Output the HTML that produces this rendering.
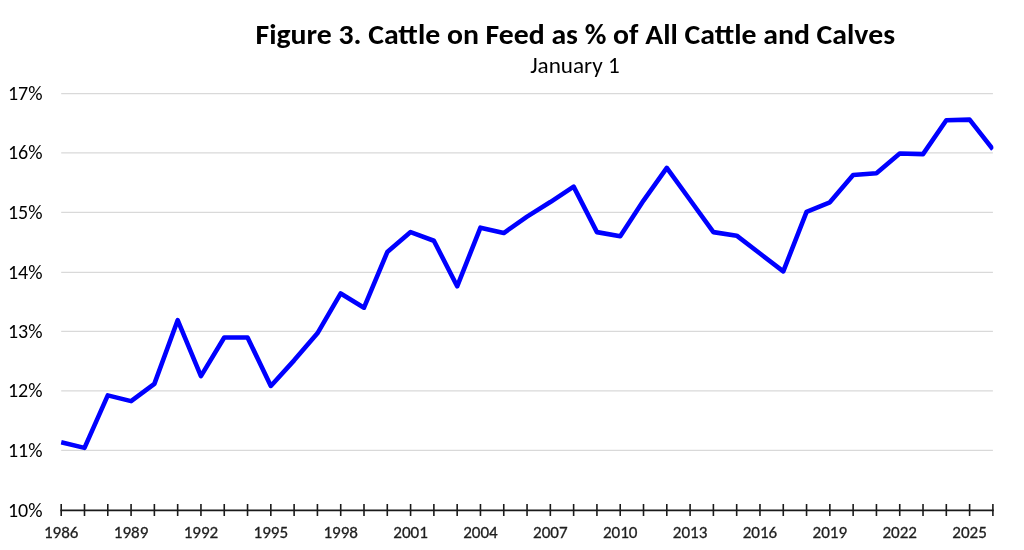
<!DOCTYPE html>
<html><head><meta charset="utf-8"><title>Figure 3. Cattle on Feed as % of All Cattle and Calves</title>
<style>
html,body{margin:0;padding:0;background:#fff;width:1024px;height:550px;overflow:hidden}
svg{display:block;will-change:transform}
text{font-family:"Carlito","Liberation Sans",sans-serif;fill:#000}
.title{font-size:28px;font-weight:bold}
.sub{font-size:22.3px}
.yl{font-size:20px;text-anchor:end}
.xl{font-size:17.2px;fill:#1f1f1f;stroke:#1f1f1f;stroke-width:0.3px}
.g{stroke:#d9d9d9;stroke-width:1.3}
.t{stroke:#1a1a1a;stroke-width:1.6}
.ax{stroke:#1a1a1a;stroke-width:1.75}
.ln{fill:none;stroke:#0000ff;stroke-width:4.6;stroke-linejoin:round;stroke-linecap:butt}
</style></head><body>
<svg width="1024" height="550" viewBox="0 0 1024 550">
<rect width="1024" height="550" fill="#fff"/>
<text x="255.5" y="43.8" class="title" textLength="639.5" lengthAdjust="spacingAndGlyphs">Figure 3. Cattle on Feed as % of All Cattle and Calves</text>
<text x="530.2" y="73.2" class="sub" textLength="89.5" lengthAdjust="spacingAndGlyphs">January 1</text>
<line x1="61.20" y1="450.36" x2="992.90" y2="450.36" class="g"/>
<line x1="61.20" y1="390.85" x2="992.90" y2="390.85" class="g"/>
<line x1="61.20" y1="331.45" x2="992.90" y2="331.45" class="g"/>
<line x1="61.20" y1="272.36" x2="992.90" y2="272.36" class="g"/>
<line x1="61.20" y1="212.36" x2="992.90" y2="212.36" class="g"/>
<line x1="61.20" y1="152.80" x2="992.90" y2="152.80" class="g"/>
<line x1="61.20" y1="93.56" x2="992.90" y2="93.56" class="g"/>
<text x="42.5" y="516.55" class="yl" textLength="34.58" lengthAdjust="spacingAndGlyphs">10%</text>
<text x="42.5" y="456.66" class="yl" textLength="34.58" lengthAdjust="spacingAndGlyphs">11%</text>
<text x="42.5" y="397.15" class="yl" textLength="34.58" lengthAdjust="spacingAndGlyphs">12%</text>
<text x="42.5" y="337.75" class="yl" textLength="34.58" lengthAdjust="spacingAndGlyphs">13%</text>
<text x="42.5" y="278.66" class="yl" textLength="34.58" lengthAdjust="spacingAndGlyphs">14%</text>
<text x="42.5" y="218.66" class="yl" textLength="34.58" lengthAdjust="spacingAndGlyphs">15%</text>
<text x="42.5" y="159.10" class="yl" textLength="34.58" lengthAdjust="spacingAndGlyphs">16%</text>
<text x="42.5" y="99.86" class="yl" textLength="34.58" lengthAdjust="spacingAndGlyphs">17%</text>

<line x1="60.40" y1="510.25" x2="993.70" y2="510.25" class="ax"/>
<line x1="61.20" y1="504" x2="61.20" y2="516" class="t"/>
<line x1="84.49" y1="504" x2="84.49" y2="516" class="t"/>
<line x1="107.78" y1="504" x2="107.78" y2="516" class="t"/>
<line x1="131.08" y1="504" x2="131.08" y2="516" class="t"/>
<line x1="154.37" y1="504" x2="154.37" y2="516" class="t"/>
<line x1="177.66" y1="504" x2="177.66" y2="516" class="t"/>
<line x1="200.95" y1="504" x2="200.95" y2="516" class="t"/>
<line x1="224.25" y1="504" x2="224.25" y2="516" class="t"/>
<line x1="247.54" y1="504" x2="247.54" y2="516" class="t"/>
<line x1="270.83" y1="504" x2="270.83" y2="516" class="t"/>
<line x1="294.12" y1="504" x2="294.12" y2="516" class="t"/>
<line x1="317.42" y1="504" x2="317.42" y2="516" class="t"/>
<line x1="340.71" y1="504" x2="340.71" y2="516" class="t"/>
<line x1="364.00" y1="504" x2="364.00" y2="516" class="t"/>
<line x1="387.29" y1="504" x2="387.29" y2="516" class="t"/>
<line x1="410.59" y1="504" x2="410.59" y2="516" class="t"/>
<line x1="433.88" y1="504" x2="433.88" y2="516" class="t"/>
<line x1="457.17" y1="504" x2="457.17" y2="516" class="t"/>
<line x1="480.46" y1="504" x2="480.46" y2="516" class="t"/>
<line x1="503.76" y1="504" x2="503.76" y2="516" class="t"/>
<line x1="527.05" y1="504" x2="527.05" y2="516" class="t"/>
<line x1="550.34" y1="504" x2="550.34" y2="516" class="t"/>
<line x1="573.63" y1="504" x2="573.63" y2="516" class="t"/>
<line x1="596.93" y1="504" x2="596.93" y2="516" class="t"/>
<line x1="620.22" y1="504" x2="620.22" y2="516" class="t"/>
<line x1="643.51" y1="504" x2="643.51" y2="516" class="t"/>
<line x1="666.80" y1="504" x2="666.80" y2="516" class="t"/>
<line x1="690.10" y1="504" x2="690.10" y2="516" class="t"/>
<line x1="713.39" y1="504" x2="713.39" y2="516" class="t"/>
<line x1="736.68" y1="504" x2="736.68" y2="516" class="t"/>
<line x1="759.97" y1="504" x2="759.97" y2="516" class="t"/>
<line x1="783.27" y1="504" x2="783.27" y2="516" class="t"/>
<line x1="806.56" y1="504" x2="806.56" y2="516" class="t"/>
<line x1="829.85" y1="504" x2="829.85" y2="516" class="t"/>
<line x1="853.14" y1="504" x2="853.14" y2="516" class="t"/>
<line x1="876.44" y1="504" x2="876.44" y2="516" class="t"/>
<line x1="899.73" y1="504" x2="899.73" y2="516" class="t"/>
<line x1="923.02" y1="504" x2="923.02" y2="516" class="t"/>
<line x1="946.31" y1="504" x2="946.31" y2="516" class="t"/>
<line x1="969.61" y1="504" x2="969.61" y2="516" class="t"/>
<line x1="992.90" y1="504" x2="992.90" y2="516" class="t"/>
<text x="43.90" y="537.8" class="xl" textLength="34.6" lengthAdjust="spacingAndGlyphs">1986</text>
<text x="113.78" y="537.8" class="xl" textLength="34.6" lengthAdjust="spacingAndGlyphs">1989</text>
<text x="183.65" y="537.8" class="xl" textLength="34.6" lengthAdjust="spacingAndGlyphs">1992</text>
<text x="253.53" y="537.8" class="xl" textLength="34.6" lengthAdjust="spacingAndGlyphs">1995</text>
<text x="323.41" y="537.8" class="xl" textLength="34.6" lengthAdjust="spacingAndGlyphs">1998</text>
<text x="393.29" y="537.8" class="xl" textLength="34.6" lengthAdjust="spacingAndGlyphs">2001</text>
<text x="463.16" y="537.8" class="xl" textLength="34.6" lengthAdjust="spacingAndGlyphs">2004</text>
<text x="533.04" y="537.8" class="xl" textLength="34.6" lengthAdjust="spacingAndGlyphs">2007</text>
<text x="602.92" y="537.8" class="xl" textLength="34.6" lengthAdjust="spacingAndGlyphs">2010</text>
<text x="672.80" y="537.8" class="xl" textLength="34.6" lengthAdjust="spacingAndGlyphs">2013</text>
<text x="742.67" y="537.8" class="xl" textLength="34.6" lengthAdjust="spacingAndGlyphs">2016</text>
<text x="812.55" y="537.8" class="xl" textLength="34.6" lengthAdjust="spacingAndGlyphs">2019</text>
<text x="882.43" y="537.8" class="xl" textLength="34.6" lengthAdjust="spacingAndGlyphs">2022</text>
<text x="952.31" y="537.8" class="xl" textLength="34.6" lengthAdjust="spacingAndGlyphs">2025</text>

<clipPath id="c"><rect x="60.4" y="0" width="933" height="550"/></clipPath>
<polyline class="ln" clip-path="url(#c)" points="61.20,442.20 84.49,447.86 107.78,395.37 131.08,401.14 154.37,383.88 177.66,320.20 200.95,376.14 224.25,337.46 247.54,337.46 270.83,385.96 294.12,360.37 317.42,333.29 340.71,293.42 364.00,307.70 387.29,252.06 410.59,232.12 433.88,240.75 457.17,286.28 480.46,227.65 503.76,233.01 527.05,216.64 550.34,202.06 573.63,186.59 596.93,232.12 620.22,236.28 643.51,200.58 666.80,167.84 690.10,199.98 713.39,232.12 736.68,235.69 759.97,253.54 783.27,271.40 806.56,211.88 829.85,202.36 853.14,174.98 876.44,173.20 899.73,153.56 923.02,154.15 946.31,120.23 969.61,119.64 992.90,149.21"/>
</svg>
</body></html>
